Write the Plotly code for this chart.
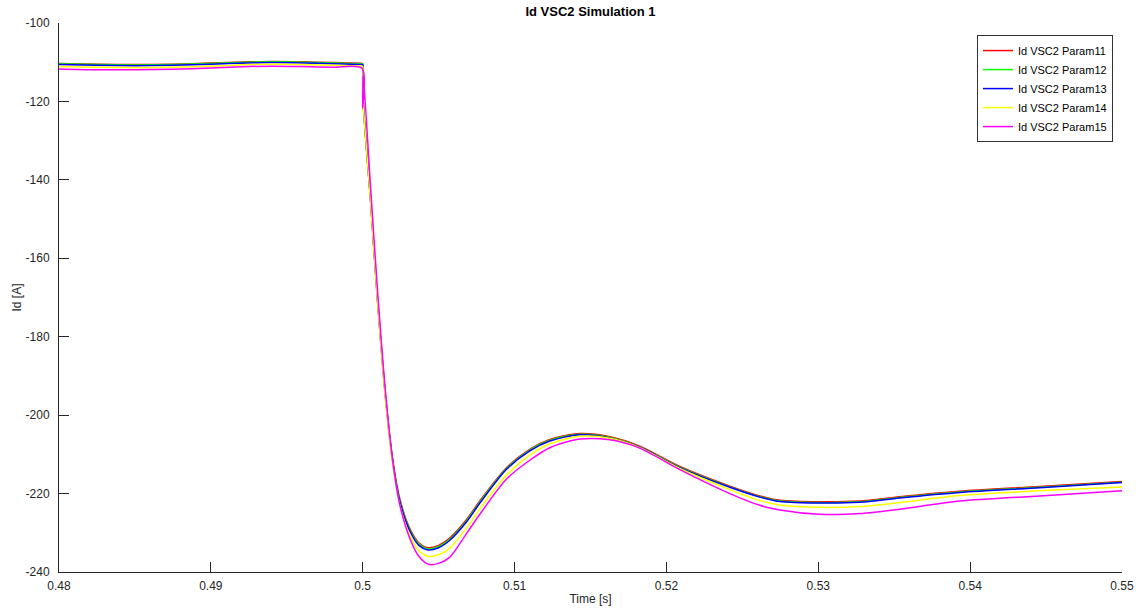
import plotly.graph_objects as go

# Sample times [s]
time_s = [
    0.4800, 0.4825, 0.4850, 0.4875, 0.4900, 0.4925, 0.4940, 0.4960, 0.4980, 0.49995,
    0.50000, 0.50003, 0.50052, 0.50098, 0.50153, 0.50200, 0.50245, 0.50311, 0.50370, 0.50429,
    0.50500, 0.50574, 0.50680, 0.50778, 0.50947, 0.51100, 0.51232, 0.51430, 0.51627, 0.51824,
    0.52088, 0.52418, 0.52615, 0.52747, 0.53010, 0.53273, 0.53536, 0.53931, 0.54458, 0.55000,
]

# Id of VSC2 [A] for each parameter set
id_param11 = [
    -110.3, -110.5, -110.6, -110.5, -110.2, -109.9, -109.8, -109.9, -110.1, -110.3,
    -110.4, -119.6, -145.2, -170.7, -196.2, -212.0, -221.5, -229.0, -232.6, -233.8,
    -233.2, -231.3, -226.8, -221.5, -213.4, -208.7, -206.2, -204.7, -205.5, -207.9,
    -213.1, -218.1, -220.6, -221.7, -222.1, -221.9, -220.8, -219.4, -218.2, -216.9,
]
id_param12 = [
    -110.4, -110.6, -110.7, -110.6, -110.3, -110.0, -109.9, -110.0, -110.2, -110.4,
    -110.5, -119.8, -145.4, -170.9, -196.5, -212.3, -221.8, -229.3, -232.9, -234.1,
    -233.5, -231.6, -227.1, -221.8, -213.6, -208.9, -206.4, -204.9, -205.7, -208.1,
    -213.3, -218.3, -220.8, -221.9, -222.3, -222.1, -221.0, -219.6, -218.4, -217.1,
]
id_param13 = [
    -110.6, -110.8, -110.9, -110.8, -110.5, -110.2, -110.1, -110.2, -110.4, -110.6,
    -110.7, -120.0, -145.6, -171.1, -196.8, -212.6, -222.1, -229.6, -233.2, -234.4,
    -233.8, -231.9, -227.4, -222.1, -213.8, -209.1, -206.6, -205.0, -205.8, -208.2,
    -213.4, -218.4, -220.9, -222.0, -222.4, -222.2, -221.1, -219.7, -218.5, -217.2,
]
id_param14 = [
    -111.1, -111.3, -111.4, -111.3, -111.0, -110.6, -110.5, -110.6, -110.8, -111.0,
    -111.1, -120.2, -145.8, -171.4, -197.3, -213.3, -223.0, -230.8, -234.6, -236.0,
    -235.6, -233.9, -229.0, -223.5, -215.3, -210.2, -207.3, -205.4, -205.9, -208.3,
    -213.6, -219.0, -221.8, -222.9, -223.5, -223.3, -222.3, -220.5, -219.3, -218.3,
]
id_param15 = [
    -111.7, -111.9, -111.9, -111.8, -111.5, -111.1, -111.0, -111.1, -111.3, -111.5,
    -121.7, -113.5, -142.0, -168.5, -195.5, -212.5, -223.0, -231.5, -236.0, -238.0,
    -237.8, -236.2, -230.4, -224.9, -216.3, -211.5, -208.3, -206.1, -206.3, -208.4,
    -213.9, -220.0, -223.0, -224.2, -225.3, -225.1, -224.0, -221.9, -220.6, -219.3,
]

series_names = [
    "Id VSC2 Param11", "Id VSC2 Param12", "Id VSC2 Param13",
    "Id VSC2 Param14", "Id VSC2 Param15",
]
series_values = [id_param11, id_param12, id_param13, id_param14, id_param15]
series_colors = ["#ff0000", "#00ff00", "#0000ff", "#ffff00", "#ff00ff"]

x_tick_vals = [0.48, 0.49, 0.50, 0.51, 0.52, 0.53, 0.54, 0.55]
x_tick_text = ["0.48", "0.49", "0.5", "0.51", "0.52", "0.53", "0.54", "0.55"]
y_tick_vals = [-100, -120, -140, -160, -180, -200, -220, -240]
y_tick_text = ["-100", "-120", "-140", "-160", "-180", "-200", "-220", "-240"]

axis_grey = "#262626"
font_family = "Liberation Sans, Arial, sans-serif"

fig = go.Figure()
for name, vals, col in zip(series_names, series_values, series_colors):
    fig.add_trace(go.Scatter(
        x=time_s, y=vals, mode="lines", name=name,
        line=dict(color=col, width=1.5, shape="spline", smoothing=0.8),
    ))

fig.update_layout(
    width=1141, height=612,
    margin=dict(l=59, r=19, t=23, b=40),
    paper_bgcolor="white", plot_bgcolor="white",
    font=dict(family=font_family, size=12, color=axis_grey),
    title=dict(
        text="<b>Id VSC2 Simulation 1</b>",
        x=0.5175, xanchor="center", y=0.982, yanchor="middle",
        font=dict(family=font_family, size=13, color="#000000"),
    ),
    showlegend=True,
    legend=dict(
        x=0.9915, xanchor="right", y=0.978, yanchor="top",
        bgcolor="white", bordercolor="#333333", borderwidth=1,
        font=dict(family=font_family, size=11, color="#000000"),
        tracegroupgap=0,
    ),
)

fig.update_xaxes(
    range=[0.48, 0.55], tickvals=x_tick_vals, ticktext=x_tick_text,
    showline=True, linecolor=axis_grey, linewidth=1, mirror=False,
    ticks="inside", ticklen=10, tickcolor=axis_grey, tickwidth=1,
    showgrid=False, zeroline=False, automargin=False,
    ticklabelstandoff=3,
    title=dict(text="Time [s]", standoff=2, font=dict(size=12, color=axis_grey)),
)
fig.update_yaxes(
    range=[-240, -100], tickvals=y_tick_vals, ticktext=y_tick_text,
    showline=True, linecolor=axis_grey, linewidth=1, mirror=False,
    ticks="inside", ticklen=10, tickcolor=axis_grey, tickwidth=1,
    showgrid=False, zeroline=False, automargin=False,
    ticklabelstandoff=6,
    title=dict(text="Id [A]", standoff=1, font=dict(size=12, color=axis_grey)),
)

fig.write_html("out.html")
